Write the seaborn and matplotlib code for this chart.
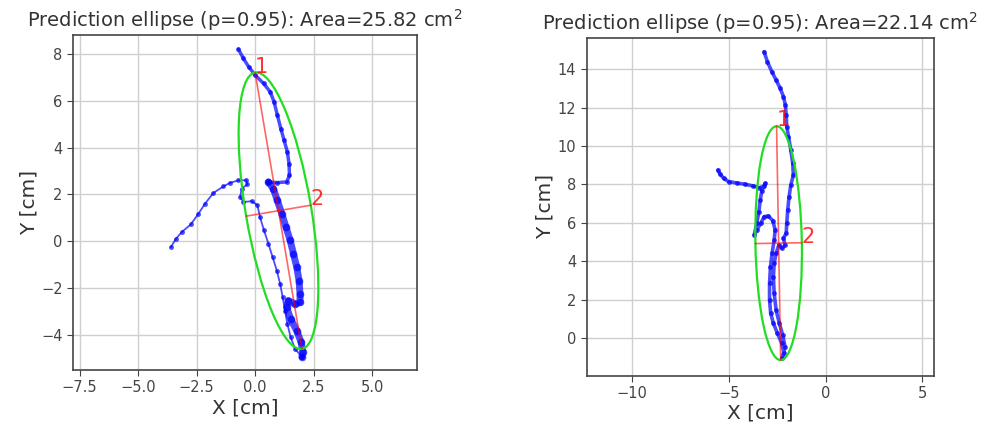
import numpy as np
import pandas as pd
import matplotlib
matplotlib.use("Agg")
import matplotlib.pyplot as plt
from matplotlib.patches import Ellipse
import seaborn as sns

# ---------------- data ----------------
titles = ["Prediction ellipse (p=0.95): Area=25.82 cm$^2$",
          "Prediction ellipse (p=0.95): Area=22.14 cm$^2$"]

# left panel trajectory, three stretches (thin / dense / thin)
left_a_x = [-0.71, -0.50, -0.28, 0.00, 0.36, 0.64, 0.81, 0.95, 1.10, 1.24, 1.38, 1.45, 1.47, 1.35, 0.93, 0.57]
left_a_y = [8.20, 7.81, 7.46, 7.10, 6.74, 6.39, 5.96, 5.39, 4.81, 4.31, 3.81, 3.31, 2.81, 2.53, 2.50, 2.53]
left_b_x = [0.57, 0.78, 0.95, 1.14, 1.32, 1.50, 1.64, 1.78, 1.88, 1.92, 1.92, 1.71, 1.42, 1.35, 1.52, 1.78, 1.97, 2.04, 2.00]
left_b_y = [2.53, 2.24, 1.74, 1.17, 0.60, 0.03, -0.54, -1.11, -1.69, -2.26, -2.61, -2.69, -2.54, -2.83, -3.33, -3.83, -4.33, -4.76, -4.94]
left_c_x = [2.00, 1.71, 1.52, 1.38, 1.28, 1.18, 1.07, 0.93, 0.75, 0.57, 0.38, 0.21, 0.10, -0.14, -0.50, -0.64,
            -0.57, -0.33, -0.38, -0.71, -1.07, -1.35, -1.78, -2.14, -2.42, -2.75, -3.13, -3.38, -3.60]
left_c_y = [-4.94, -4.61, -4.11, -3.54, -2.97, -2.40, -1.83, -1.26, -0.69, -0.11, 0.46, 1.03, 1.53, 1.71, 1.67, 1.89,
            2.24, 2.43, 2.60, 2.60, 2.49, 2.34, 2.06, 1.60, 1.17, 0.71, 0.39, 0.10, -0.26]

# right panel trajectory
right_x = [-5.57, -5.45, -5.27, -5.02, -4.59, -4.16, -3.73, -3.42, -3.18, -3.11, -3.30, -3.38, -3.45, -3.56, -3.69,
           -3.56, -3.35, -3.18, -2.96, -2.73, -2.61, -2.66, -2.77, -2.85, -2.90, -2.90, -2.84, -2.70, -2.49, -2.27,
           -2.15, -2.25, -2.10, -2.22, -2.39, -2.56, -2.66, -2.70, -2.66, -2.56, -2.42, -2.27, -2.10, -2.18, -2.04,
           -2.01, -1.96, -1.89, -1.80, -1.67, -1.70, -1.80, -1.92, -2.01, -2.04, -2.08, -2.18, -2.35, -2.56, -2.78,
           -3.01, -3.18]
right_y = [8.75, 8.54, 8.32, 8.15, 8.08, 8.01, 7.92, 7.83, 7.92, 8.06, 7.68, 7.19, 6.59, 5.98, 5.37,
           5.63, 5.98, 6.33, 6.36, 6.12, 5.63, 5.11, 4.42, 3.73, 2.86, 1.99, 1.30, 0.78, 0.26, -0.26,
           -0.78, -1.04, -0.43, 0.17, 0.78, 1.47, 2.34, 3.21, 3.90, 4.42, 4.85, 4.68, 4.85, 5.20, 5.46,
           5.98, 6.67, 7.37, 7.97, 8.49, 9.10, 9.79, 10.49, 11.01, 11.61, 12.13, 12.57, 13.00, 13.43, 13.86,
           14.38, 14.90]

# ellipse parameters: centre x, centre y, semi-major, semi-minor, angle of major axis (deg)
ell_cx = [1.00, -2.43]
ell_cy = [1.30, 4.95]
ell_a = [5.99, 6.08]
ell_b = [1.40, 1.20]
ell_ang = [99.6, 91.0]

xlims = [(-7.78, 6.92), (-12.35, 5.6)]
ylims = [(-5.51, 8.81), (-1.94, 15.63)]
xticks = [[-7.5, -5.0, -2.5, 0.0, 2.5, 5.0], [-10, -5, 0, 5]]
xticklabels = [["\u22127.5", "\u22125.0", "\u22122.5", "0.0", "2.5", "5.0"], ["\u221210", "\u22125", "0", "5"]]
yticks = [[-4, -2, 0, 2, 4, 6, 8], [0, 2, 4, 6, 8, 10, 12, 14]]

# ---------------- style ----------------
sns.set_style("ticks", {"axes.grid": True, "grid.color": "#cfcfcf", "axes.edgecolor": "#444444",
                        "xtick.color": "#444444", "ytick.color": "#444444",
                        "axes.labelcolor": "#333333", "text.color": "#333333"})
plt.rcParams['font.family'] = ['DejaVu Sans']

fig = plt.figure(figsize=(9.84, 4.28), dpi=100)
axes = [fig.add_axes([0.0742, 0.1355, 0.3496, 0.7827]),
        fig.add_axes([0.5962, 0.1222, 0.3530, 0.7897])]

def draw_traj(ax, xs, ys, lw, ms):
    df = pd.DataFrame({"x": xs, "y": ys})
    sns.lineplot(data=df, x="x", y="y", sort=False, estimator=None, errorbar=None, ax=ax,
                 color="blue", lw=lw, marker="o", markersize=ms, markeredgewidth=0,
                 alpha=0.7, zorder=2)

draw_traj(axes[0], left_a_x, left_a_y, 2.5, 3.5)
draw_traj(axes[0], left_b_x, left_b_y, 5.0, 5.5)
draw_traj(axes[0], left_c_x, left_c_y, 1.3, 3.5)
draw_traj(axes[1], right_x, right_y, 2.6, 3.5)

for i, ax in enumerate(axes):
    cx, cy, a, b, ang = ell_cx[i], ell_cy[i], ell_a[i], ell_b[i], ell_ang[i]
    ax.add_patch(Ellipse((cx, cy), 2 * a, 2 * b, angle=ang, fill=False,
                         edgecolor="#22dd22", lw=1.6, zorder=3))
    t = np.deg2rad(ang)
    ux, uy = np.cos(t), np.sin(t)
    vx, vy = -np.sin(t), np.cos(t)
    # major axis (label 1 at upper end), minor axis (label 2 at right end)
    p1 = (cx + a * ux, cy + a * uy); m1 = (cx - a * ux, cy - a * uy)
    p2 = (cx - b * vx, cy - b * vy); m2 = (cx + b * vx, cy + b * vy)
    if p1[1] < m1[1]:
        p1, m1 = m1, p1
    if p2[0] < m2[0]:
        p2, m2 = m2, p2
    ax.plot([m1[0], p1[0]], [m1[1], p1[1]], color="red", lw=1.2, alpha=0.6, zorder=4)
    ax.plot([m2[0], p2[0]], [m2[1], p2[1]], color="red", lw=1.2, alpha=0.6, zorder=4)
    ax.text(p1[0], p1[1], "1", color="red", fontsize=15, alpha=0.8, zorder=5)
    ax.text(p2[0], p2[1], "2", color="red", fontsize=15, alpha=0.8, zorder=5)

    ax.set_xlim(*xlims[i]); ax.set_ylim(*ylims[i])
    ax.set_xticks(xticks[i]); ax.set_xticklabels(xticklabels[i])
    ax.set_yticks(yticks[i])
    ax.tick_params(labelsize=10.5, length=4, color="#444444")
    ax.set_xlabel("X [cm]", fontsize=14.5, labelpad=2)
    ax.set_ylabel("Y [cm]", fontsize=14.5, labelpad=2)
    ax.set_title(titles[i], fontsize=14, pad=6)
    ax.grid(True, color="#cfcfcf", lw=1)
    for s in ax.spines.values():
        s.set_visible(True); s.set_color("#444444"); s.set_linewidth(1.2)
    ax.set_axisbelow(True)

fig.savefig("out.png", dpi=100)
